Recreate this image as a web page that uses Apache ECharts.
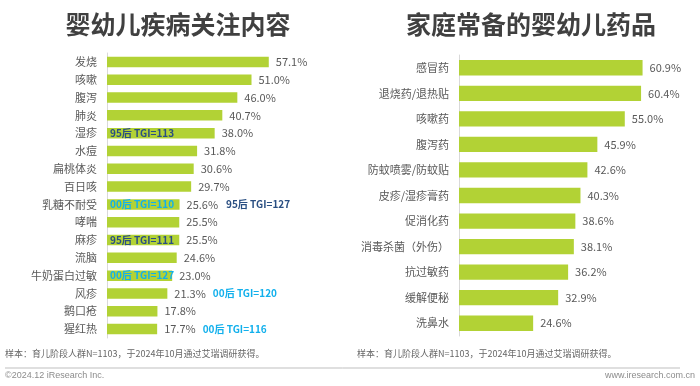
<!DOCTYPE html>
<html>
<head>
<meta charset="utf-8">
<script src="https://cdn.jsdelivr.net/npm/echarts@6/dist/echarts.min.js"></script>
<style>html,body{margin:0;padding:0;background:#fff}#c{width:700px;height:386px}</style>
</head>
<body>
<div id="c"></div>
<script>
// ---- data ----
var diseaseCats = ['发烧','咳嗽','腹泻','肺炎','湿疹','水痘','扁桃体炎','百日咳','乳糖不耐受','哮喘','麻疹','流脑','牛奶蛋白过敏','风疹','鹅口疮','猩红热'];
var diseaseVals = [57.1,51.0,46.0,40.7,38.0,31.8,30.6,29.7,25.6,25.5,25.5,24.6,23.0,21.3,17.8,17.7];
// TGI notes drawn inside the bar
var insideNoteCats = ['湿疹','乳糖不耐受','麻疹','牛奶蛋白过敏'];
var insideNoteText = ['95后 TGI=113','00后 TGI=110','95后 TGI=111','00后 TGI=127'];
var insideNoteGroup = ['95','00','95','00'];
// TGI notes drawn after the value label
var outsideNoteCats = ['乳糖不耐受','风疹','猩红热'];
var outsideNoteText = ['95后 TGI=127','00后 TGI=120','00后 TGI=116'];
var outsideNoteGroup = ['95','00','00'];

var medCats = ['感冒药','退烧药/退热贴','咳嗽药','腹泻药','防蚊喷雾/防蚊贴','皮疹/湿疹膏药','促消化药','消毒杀菌（外伤）','抗过敏药','缓解便秘','洗鼻水'];
var medVals = [60.9,60.4,55.0,45.9,42.6,40.3,38.6,38.1,36.2,32.9,24.6];

var titles = ['婴幼儿疾病关注内容','家庭常备的婴幼儿药品'];
var footnote = '样本：育儿阶段人群N=1103，于2024年10月通过艾瑞调研获得。';
var copyright = '©2024.12 iResearch Inc.';
var website = 'www.iresearch.com.cn';

// ---- styles ----
var FONT = '"Noto Sans CJK SC", "Microsoft YaHei", sans-serif';
var BAR = '#B2D235';
var LABEL = '#595959';
var C95 = '#2A4F82';
var C00 = '#12B0EC';

function fmt(v){ return v.toFixed(1) + '%'; }

var outsideMap = {};
outsideNoteCats.forEach(function(c,i){ outsideMap[c] = {t: outsideNoteText[i], g: outsideNoteGroup[i]}; });
var insideMap = {};
insideNoteCats.forEach(function(c,i){ insideMap[c] = {t: insideNoteText[i], g: insideNoteGroup[i]}; });

var chart = echarts.init(document.getElementById('c'), null, {renderer:'canvas'});

var valueRich = {
  v: {fontSize: 11, color: LABEL, fontFamily: FONT},
  a95: {fontSize: 10, color: C95, fontWeight: 'bold', fontFamily: FONT, padding:[0,0,0,8]},
  a00: {fontSize: 10, color: C00, fontWeight: 'bold', fontFamily: FONT, padding:[0,0,0,7]}
};

function yAxisCommon(cats, idx){
  return {
    type: 'category', gridIndex: idx, data: cats, inverse: true,
    axisLine: {show: true, lineStyle: {color: '#D9D9D9', width: 1}},
    axisTick: {show: false},
    axisLabel: {color: LABEL, fontSize: 11, fontFamily: FONT, margin: 10}
  };
}

var option = {
  animation: false,
  backgroundColor: '#fff',
  title: [
    {text: titles[0], left: 173, top: 7, textAlign: 'center',
     textStyle: {fontSize: 25, fontWeight: 'bold', color: '#404040', fontFamily: FONT}},
    {text: titles[1], left: 526, top: 7, textAlign: 'center',
     textStyle: {fontSize: 25, fontWeight: 'bold', color: '#404040', fontFamily: FONT}}
  ],
  grid: [
    {left: 107, top: 53, width: 170, height: 285},
    {left: 459, top: 55, width: 211, height: 281}
  ],
  xAxis: [
    {type: 'value', gridIndex: 0, min: 0, max: 60, show: false},
    {type: 'value', gridIndex: 1, min: 0, max: 70, show: false}
  ],
  yAxis: [yAxisCommon(diseaseCats, 0), yAxisCommon(medCats, 1)],
  series: [
    {
      type: 'bar', xAxisIndex: 0, yAxisIndex: 0, data: diseaseVals,
      barCategoryGap: '41%',
      itemStyle: {color: BAR},
      label: {
        show: true, position: 'right', distance: 7,
        formatter: function(p){
          var s = '{v|' + fmt(p.value) + '}';
          var n = outsideMap[p.name];
          if (n) s += '{a' + n.g + '|' + n.t + '}';
          return s;
        },
        rich: valueRich
      },
      z: 2
    },
    {
      type: 'bar', xAxisIndex: 0, yAxisIndex: 0,
      data: diseaseCats.map(function(c,i){ return insideMap[c] ? diseaseVals[i] : null; }),
      barGap: '-100%', barCategoryGap: '41%',
      itemStyle: {color: 'rgba(0,0,0,0)'},
      label: {
        show: true, position: 'insideLeft', distance: 3,
        formatter: function(p){ var n = insideMap[p.name]; return n ? '{b' + n.g + '|' + n.t + '}' : ''; },
        rich: {
          b95: {fontSize: 10, color: C95, fontWeight: 'bold', fontFamily: FONT},
          b00: {fontSize: 10, color: C00, fontWeight: 'bold', fontFamily: FONT}
        }
      },
      silent: true, z: 3
    },
    {
      type: 'bar', xAxisIndex: 1, yAxisIndex: 1, data: medVals,
      barCategoryGap: '40%',
      itemStyle: {color: BAR},
      label: {
        show: true, position: 'right', distance: 7,
        formatter: function(p){ return fmt(p.value); },
        color: LABEL, fontSize: 11, fontFamily: FONT
      }
    }
  ],
  graphic: [
    {type: 'text', left: 5, top: 349, style: {text: footnote, fontSize: 9, fill: '#666', fontFamily: FONT}},
    {type: 'text', left: 357, top: 349, style: {text: footnote, fontSize: 9, fill: '#666', fontFamily: FONT}},
    {type: 'line', shape: {x1: 5, y1: 368, x2: 680, y2: 368}, style: {stroke: '#BFBFBF', lineWidth: 1}},
    {type: 'text', left: 5, top: 371, style: {text: copyright, fontSize: 9, fill: '#8C8C8C', fontFamily: '"Liberation Sans", Arial, sans-serif'}},
    {type: 'text', right: 5, top: 371, style: {text: website, fontSize: 9, fill: '#8C8C8C', fontFamily: '"Liberation Sans", Arial, sans-serif'}}
  ]
};
chart.setOption(option);
</script>
</body>
</html>
